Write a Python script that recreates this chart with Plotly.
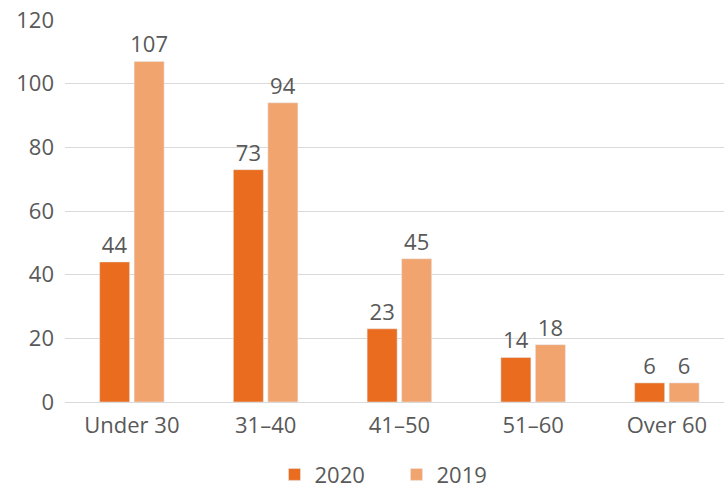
import plotly.graph_objects as go

categories = ["Under 30", "31\u201340", "41\u201350", "51\u201360", "Over 60"]
values_2020 = [44, 73, 23, 14, 6]
values_2019 = [107, 94, 45, 18, 6]
y_ticks = [0, 20, 40, 60, 80, 100, 120]

TEXT = "#595959"
FONT = "Open Sans"
FS = 22

fig = go.Figure()
fig.add_trace(go.Bar(name="2020", x=categories, y=values_2020, marker_color="#EA6D1F",
                     text=values_2020, textposition="outside", constraintext="none",
                     cliponaxis=False, textfont=dict(size=FS, color=TEXT, family=FONT)))
fig.add_trace(go.Bar(name="2019", x=categories, y=values_2019, marker_color="#F2A46E",
                     text=values_2019, textposition="outside", constraintext="none",
                     cliponaxis=False, textfont=dict(size=FS, color=TEXT, family=FONT)))

fig.update_layout(
    width=724, height=498,
    margin=dict(l=65, r=0, t=20, b=96),
    paper_bgcolor="white", plot_bgcolor="white",
    font=dict(family=FONT, size=FS, color=TEXT),
    barmode="group", bargap=0.484, bargroupgap=0.13,
    showlegend=True,
    legend=dict(orientation="h", x=0.503, xanchor="center", y=-0.19, yanchor="middle",
                entrywidth=77, font=dict(size=FS, color=TEXT)),
    xaxis=dict(range=[-0.5, 4.427], showgrid=False, showline=True, linecolor="#D9D9D9",
               linewidth=1, ticks="", automargin=False, ticklabelstandoff=4,
               ticklabeloverflow="allow", tickfont=dict(size=FS, color=TEXT)),
    yaxis=dict(range=[0, 120.01], tickvals=y_ticks, showgrid=True, gridcolor="#D9D9D9",
               gridwidth=1, zeroline=False, showline=False, ticks="", automargin=False,
               ticklabelstandoff=10, ticklabeloverflow="allow",
               tickfont=dict(size=FS, color=TEXT)),
)

fig.write_html("out.html", config={"displayModeBar": False},
               post_script="document.body.style.margin='0';document.body.style.overflow='hidden';")
